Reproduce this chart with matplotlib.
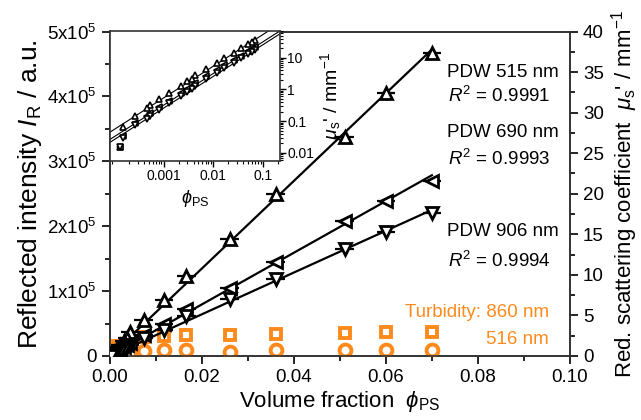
import numpy as np
import matplotlib
matplotlib.use('Agg')
import matplotlib.pyplot as plt
from matplotlib.ticker import MultipleLocator, LogLocator, NullFormatter

plt.rcParams['font.family'] = ['Liberation Sans', 'DejaVu Sans']
plt.rcParams['mathtext.fontset'] = 'custom'
plt.rcParams['mathtext.rm'] = 'Liberation Sans'
plt.rcParams['mathtext.it'] = 'Liberation Sans:italic'

# volume fractions of the dilution series
phi = [0.070, 0.060, 0.051, 0.036, 0.026, 0.0166, 0.0118, 0.0073, 0.0043, 0.0037,
       0.0030, 0.0022, 0.0013, 0.0008, 0.00054, 0.00046, 0.00027, 0.00015, 0.00013]
# reduced scattering coefficient mus' / mm-1 (PDW)
mus_515 = [37.3, 32.4, 27.0, 20.0, 14.4, 9.9, 6.9, 4.4, 2.9, 2.2,
           1.8, 1.3, 0.75, 0.5, 0.33, 0.26, 0.15, 0.065, 0.0155]
mus_690 = [21.6, 19.1, 16.7, 11.6, 8.4, 5.8, 4.0, 2.6, 1.6, 1.3,
           1.05, 0.75, 0.42, 0.27, 0.18, 0.15, 0.09, 0.034, 0.0155]
mus_906 = [17.6, 15.3, 13.2, 9.5, 7.0, 4.9, 3.2, 2.2, 1.3, 1.05,
           0.85, 0.6, 0.36, 0.22, 0.15, 0.12, 0.075, 0.03, 0.0155]
phi_err = 0.002

# turbidity
phi_turb = [0.0005, 0.0043, 0.0073, 0.0118, 0.0166, 0.026, 0.036, 0.051, 0.060, 0.070]
turb_860 = [1.2, 1.9, 2.4, 2.5, 2.6, 2.6, 2.7, 2.8, 3.0, 3.0]
turb_516 = [0.9, 0.5, 0.6, 0.8, 0.8, 0.5, 0.8, 0.8, 0.8, 0.8]

r2 = ['0.9991', '0.9993', '0.9994']
wl = ['515', '690', '906']
orange = '#ff8a1c'

series = [(mus_515, '^'), (mus_690, '<'), (mus_906, 'v')]

fig = plt.figure(figsize=(6.41, 4.20), dpi=100)
ax = fig.add_axes([0.1716, 0.1524, 0.7174, 0.7726])
ax2 = ax.twinx()

ax.set_xlim(0, 0.10)
ax.set_ylim(0, 5e5)
ax2.set_ylim(0, 40)

phi_a = np.array(phi)
for y, m in series:
    y = np.array(y)
    k = np.sum(phi_a * y) / np.sum(phi_a ** 2)
    xs = np.array([0, phi_a.max()])
    ax2.plot(xs, k * xs, color='k', lw=1.6, zorder=3)
    ax2.errorbar(phi, y, xerr=phi_err, fmt=m, ms=9, mfc='white', mec='k', mew=2,
                 ecolor='k', elinewidth=1.6, capsize=0, zorder=4)

ax2.plot(phi_turb, turb_860, 's', ms=7.5, mfc='white', mec=orange, mew=2.8, zorder=2)
ax2.plot(phi_turb, turb_516, 'o', ms=8.5, mfc='white', mec=orange, mew=2.8, zorder=2)

# texts
ys = [(34.9, 32.0), (27.5, 24.3), (15.3, 11.7)]
for (y1, y2), w, r in zip(ys, wl, r2):
    ax2.text(0.0733, y1, 'PDW %s nm' % w, fontsize=13.5, va='center', ha='left')
    ax2.text(0.0735, y2, '$R^2$ = %s' % r, fontsize=13.5, va='center', ha='left')
ax2.text(0.0955, 5.3, 'Turbidity: 860 nm', color=orange, fontsize=13.5, va='center', ha='right')
ax2.text(0.0955, 2.0, '516 nm', color=orange, fontsize=13.5, va='center', ha='right')

# ticks
ax.xaxis.set_minor_locator(MultipleLocator(0.01))
ax.yaxis.set_minor_locator(MultipleLocator(0.5e5))
ax2.yaxis.set_major_locator(MultipleLocator(5))
ax2.yaxis.set_minor_locator(MultipleLocator(2.5))
ax.set_xticks([0, 0.02, 0.04, 0.06, 0.08, 0.10])
ax.set_xticklabels(['0.00', '0.02', '0.04', '0.06', '0.08', '0.10'])
ax.set_yticks([0, 1e5, 2e5, 3e5, 4e5, 5e5])
ax.set_yticklabels(['0'] + ['%dx10$^5$' % i for i in range(1, 6)])
for a in (ax, ax2):
    a.tick_params(which='major', direction='out', length=6, width=1.2, labelsize=13.5)
    a.tick_params(which='minor', direction='out', length=3.5, width=1.2)
    for s in a.spines.values():
        s.set_linewidth(1.2)
        s.set_color('#333333')

ax.set_xlabel('Volume fraction  $\\phi_{\\rm PS}$', fontsize=16, labelpad=2)
ax.set_ylabel('Reflected intensity $I_{\\rm R}$ / a.u.', fontsize=19, labelpad=2)
ax2.set_ylabel("Red. scattering coefficient  $\\mu_{\\rm s}$' / mm$^{-1}$", fontsize=16, labelpad=4)

# inset (log-log)
ins = fig.add_axes([0.1716, 0.6167, 0.265, 0.3095])
ins.set_zorder(10)
ins.set_xscale('log')
ins.set_yscale('log')
ins.set_xlim(8.3e-5, 0.22)
ins.set_ylim(0.0055, 70)
xl = np.array([8.3e-5, 0.22])
for y, m in series:
    y = np.array(y)
    k = np.sum(phi_a * y) / np.sum(phi_a ** 2)
    ins.plot(xl, k * xl, color='k', lw=0.8)
    ins.errorbar(phi, y, xerr=np.array(phi) * 0.06, fmt=m, ms=5, mfc='white', mec='k', mew=1.2,
                 ecolor='k', elinewidth=0.8, capsize=0)
ins.yaxis.tick_right()
ins.yaxis.set_label_position('right')
ins.set_xticks([0.001, 0.01, 0.1])
ins.set_xticklabels(['0.001', '0.01', '0.1'])
ins.set_yticks([0.01, 0.1, 1, 10])
ins.set_yticklabels(['0.01', '0.1', '1', '10'])
ins.xaxis.set_minor_locator(LogLocator(base=10, subs=np.arange(2, 10)))
ins.xaxis.set_minor_formatter(NullFormatter())
ins.yaxis.set_minor_locator(LogLocator(base=10, subs=np.arange(2, 10)))
ins.yaxis.set_minor_formatter(NullFormatter())
ins.tick_params(which='major', direction='out', length=4, width=1, labelsize=10, pad=1.5)
ins.tick_params(which='minor', direction='out', length=2, width=0.8)
for s in ins.spines.values():
    s.set_linewidth(1.2)
    s.set_color('#333333')
ins.set_xlabel('$\\phi_{\\rm PS}$', fontsize=13, labelpad=4)
ins.set_ylabel("$\\mu_{\\rm s}$' / mm$^{-1}$", fontsize=14, labelpad=3)

fig.savefig('out.png', dpi=100)
